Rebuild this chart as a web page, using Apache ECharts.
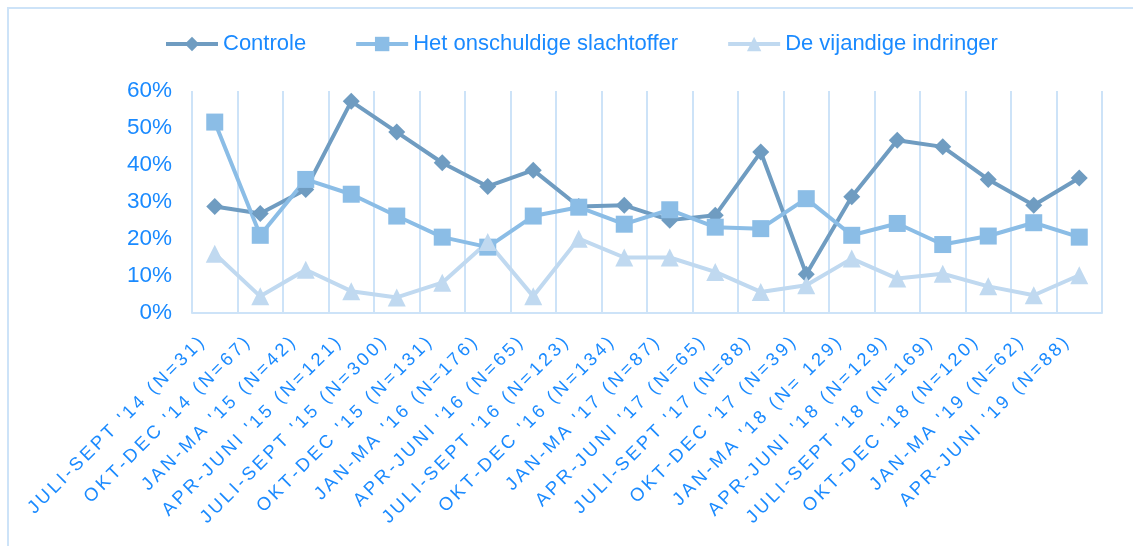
<!DOCTYPE html>
<html>
<head>
<meta charset="utf-8">
<script src="https://cdn.jsdelivr.net/npm/echarts@6/dist/echarts.min.js"></script>
<style>
  html, body { margin: 0; padding: 0; background: #fff; }
  #chart { width: 1133px; height: 546px; }
</style>
</head>
<body>
<div id="chart"></div>
<script>
// kwartalen met aantal respondenten
const periods = [
  "JULI-SEPT '14 (N=31)", "OKT-DEC '14 (N=67)", "JAN-MA '15 (N=42)", "APR-JUNI '15 (N=121)",
  "JULI-SEPT '15 (N=300)", "OKT-DEC '15 (N=131)", "JAN-MA '16 (N=176)", "APR-JUNI '16 (N=65)",
  "JULI-SEPT '16 (N=123)", "OKT-DEC '16 (N=134)", "JAN-MA '17 (N=87)", "APR-JUNI '17 (N=65)",
  "JULI-SEPT '17 (N=88)", "OKT-DEC '17 (N=39)", "JAN-MA '18 (N= 129)", "APR-JUNI '18 (N=129)",
  "JULI-SEPT '18 (N=169)", "OKT-DEC '18 (N=120)", "JAN-MA '19 (N=62)", "APR-JUNI '19 (N=88)"
]

const controle = [28.8, 26.9, 33.4, 57.2, 48.9, 40.6, 34.2, 38.6, 28.8, 29.1,
  25.1, 26.4, 43.5, 10.5, 31.4, 46.7, 44.9, 36.1, 29.1, 36.5]
const slachtoffer = [51.6, 21.0, 36.1, 32.1, 26.2, 20.5, 17.8, 26.2, 28.6, 24.0,
  27.9, 23.2, 22.8, 30.9, 21.0, 24.2, 18.5, 20.8, 24.4, 20.5]
const indringer = [16.0, 4.5, 11.7, 5.9, 4.2, 8.2, 19.2, 4.5, 20.1, 15.0,
  15.0, 11.1, 5.7, 7.5, 14.7, 9.3, 10.6, 7.2, 4.8, 10.2]

const yTicks = [0, 10, 20, 30, 40, 50, 60]

const textColor = '#1a8aff'
const gridColor = '#cde3f8'
const font = '"Liberation Sans", Arial, sans-serif'

const chart = echarts.init(document.getElementById('chart'))

function lineSeries(name, data, color, symbol, size) {
  return {
    name,
    type: 'line',
    data,
    symbol,
    symbolSize: size,
    lineStyle: { color, width: 4 },
    itemStyle: { color },
    emphasis: { disabled: true }
  }
}

// letters wat ruimer zetten, zoals in het origineel
const spaced = s => s.split('').join('\u2006')

chart.setOption({
  animation: false,
  graphic: [{
    type: 'rect',
    shape: { x: 8, y: 8, width: 1200, height: 600 },
    style: { fill: 'none', stroke: gridColor, lineWidth: 2 }
  }],
  legend: {
    top: 28,
    left: 159,
    itemWidth: 52,
    itemHeight: 18,
    itemGap: 48,
    lineStyle: { width: 4 },
    textStyle: { color: textColor, fontSize: 22, fontFamily: font },
    data: ['Controle', 'Het onschuldige slachtoffer', 'De vijandige indringer']
  },
  grid: { left: 192, right: 31, top: 91, bottom: 233 },
  xAxis: {
    type: 'category',
    data: periods,
    boundaryGap: true,
    axisLine: { lineStyle: { color: gridColor, width: 2 } },
    axisTick: { show: false },
    splitLine: { show: true, lineStyle: { color: gridColor, width: 2 } },
    axisLabel: {
      interval: 0,
      rotate: 45,
      margin: 14,
      padding: [0, 19, 0, 0],
      color: textColor,
      fontSize: 18.4,
      fontFamily: font,
      formatter: spaced
    }
  },
  yAxis: {
    type: 'value',
    min: yTicks[0],
    max: yTicks[yTicks.length - 1],
    interval: 10,
    axisLine: { show: false },
    axisTick: { show: false },
    splitLine: { show: false },
    axisLabel: {
      color: textColor,
      fontSize: 22.5,
      fontFamily: font,
      margin: 20,
      formatter: v => v + '%'
    }
  },
  series: [
    lineSeries('Controle', controle, '#6f9cc1', 'diamond', 17),
    lineSeries('Het onschuldige slachtoffer', slachtoffer, '#8bbde6', 'rect', 17),
    lineSeries('De vijandige indringer', indringer, '#c0d9f0', 'triangle', 18)
  ]
})
</script>
</body>
</html>
